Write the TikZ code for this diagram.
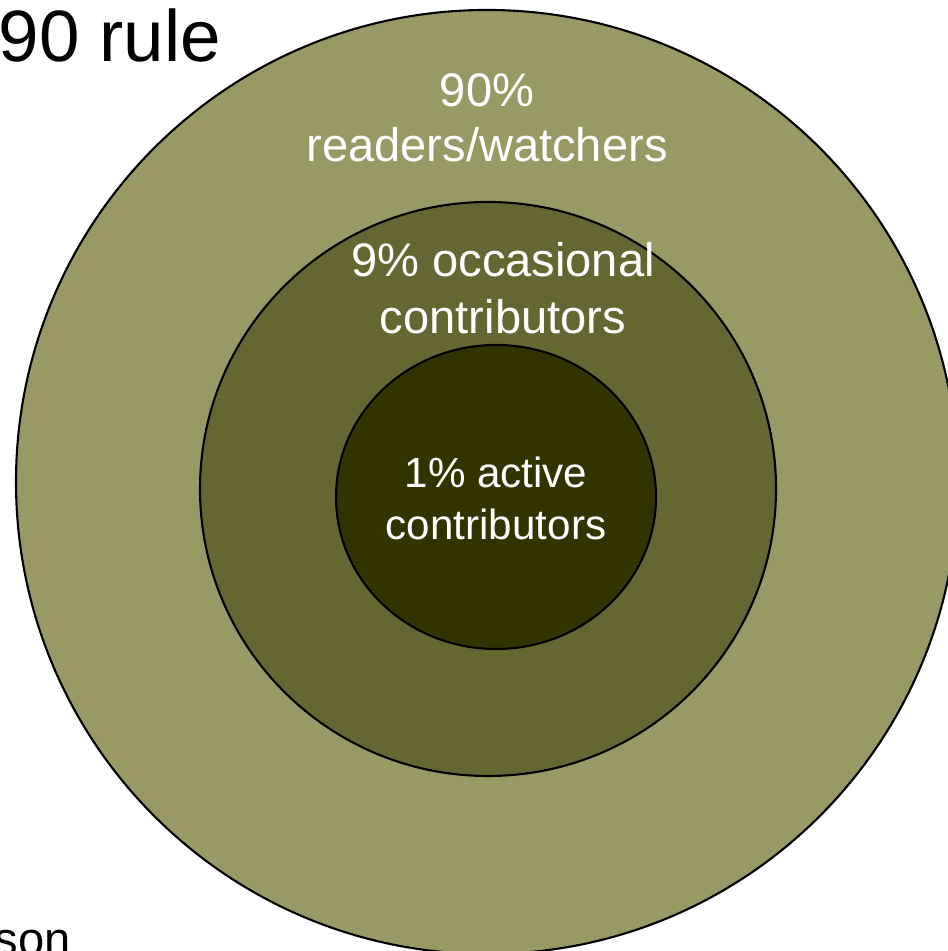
\documentclass[tikz,border=0pt]{standalone}
\usepackage{fontspec}
\setmainfont{Liberation Sans}
\usepackage{xcolor}

\definecolor{ringout}{HTML}{999966}
\definecolor{ringmid}{HTML}{666633}
\definecolor{ringin}{HTML}{333300}

\begin{document}
\begin{tikzpicture}
			% \draw [help lines] (0,0) grid (9,9);
			\useasboundingbox (0,0) rectangle (9.47,9.51);
			
			% draw rings
			
			\fill[draw = black, fill = ringout, line width=0.6pt] (4.87,4.69) ellipse (4.71cm and 4.72cm);
			\fill[draw = black, fill = ringmid, line width=0.6pt] (4.88,4.62) ellipse (2.88cm and 2.87cm);
			\fill[draw = black, fill = ringin, line width=0.6pt] (4.96,4.54) ellipse (1.60cm and 1.52cm);
			
			
			% node text
			
			\node[anchor = base west, inner sep = 0pt, font = \fontsize{20.7}{24}\selectfont] (title) at (-0.02,8.89) {90 rule};
			\node[anchor = base west, inner sep = 0pt, font = \fontsize{13.4}{16}\selectfont] (author) at (-0.06,-0.04) {son};
			
			\node[align = center, text = white, font = \fontsize{13.4}{15.8}\selectfont] (readers) at (4.87,8.33) {90\%\\readers/watchers};
			\node[align = center, text = white, font = \fontsize{13.4}{16.2}\selectfont] (occasional) at (5.03,6.63) {9\% occasional\\contributors};
			\node[align = center, text = white, font = \fontsize{12}{14.8}\selectfont] (active) at (4.96,4.53) {1\% active\\contributors};
			
		\end{tikzpicture}
\end{document}
